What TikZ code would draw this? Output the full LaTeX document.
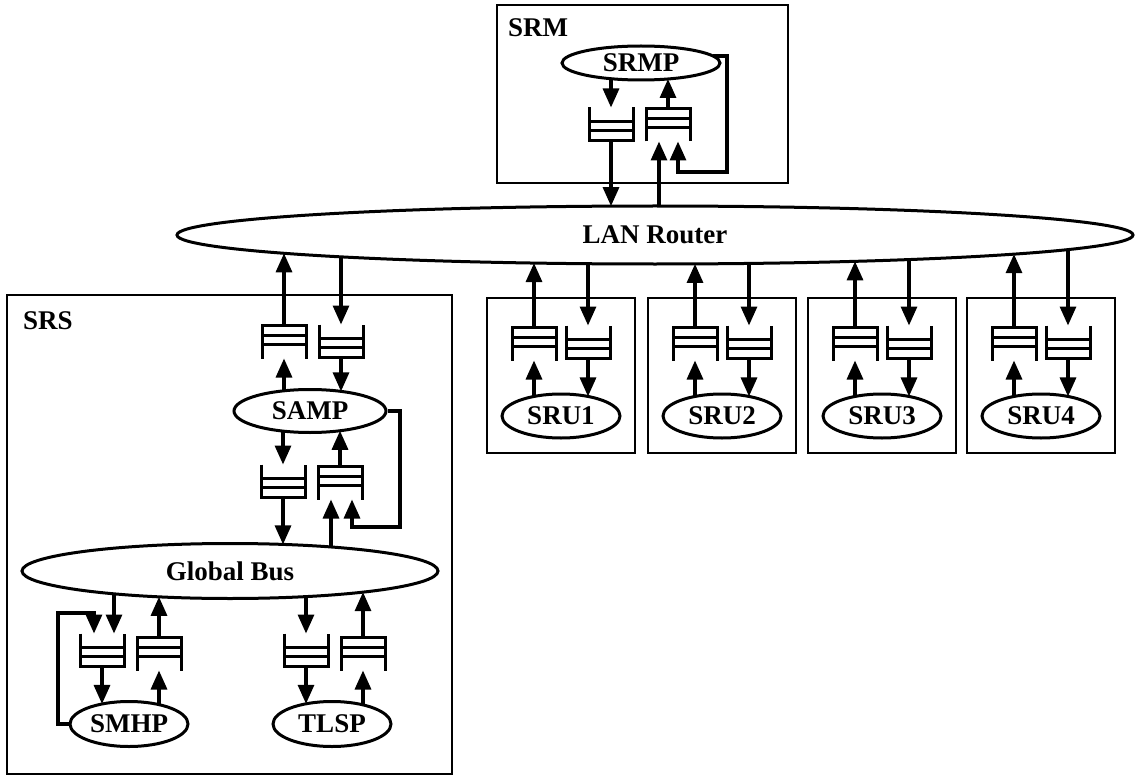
\documentclass[tikz,border=0pt]{standalone}
\usepackage{fontspec}
\setmainfont{Liberation Serif}
\usetikzlibrary{shapes.geometric,arrows.meta,calc}
\tikzset{
  lbl/.style={font=\fontsize{27}{31}\selectfont\bfseries, inner sep=0pt},
  ell/.style={draw, ellipse, line width=3pt, lbl},
  box/.style={draw, line width=1.9pt, inner sep=0pt},
  arr/.style={line width=3.2pt, -{Triangle[length=19pt,width=16pt]}},
  qbox/.style={minimum width=44pt, minimum height=33pt, inner sep=0pt, outer sep=0pt},
  qline/.style={line width=3pt},
}
% open-top queue (flow downward)
\newcommand\qtop[3]{%
  \node[qbox] (#1) at (#2,#3) {};
  \draw[qline] (#1.north west) -- (#1.south west) -- (#1.south east) -- (#1.north east);
  \draw[qline] ($(#1.north west)!.42!(#1.south west)$) -- ($(#1.north east)!.42!(#1.south east)$);
  \draw[qline] ($(#1.north west)!.70!(#1.south west)$) -- ($(#1.north east)!.70!(#1.south east)$);}
% open-bottom queue (flow upward)
\newcommand\qbot[3]{%
  \node[qbox] (#1) at (#2,#3) {};
  \draw[qline] (#1.south west) -- (#1.north west) -- (#1.north east) -- (#1.south east);
  \draw[qline] ($(#1.south west)!.42!(#1.north west)$) -- ($(#1.south east)!.42!(#1.north east)$);
  \draw[qline] ($(#1.south west)!.70!(#1.north west)$) -- ($(#1.south east)!.70!(#1.north east)$);}
% point on an ellipse border: name, x, cx, cy, a, b, sign (-1 top, +1 bottom)
\newcommand\ept[7]{%
  \pgfmathsetmacro\tmpy{(#4)+(#7)*(#6)*sqrt(1-(((#2)-(#3))/(#5))^2)}%
  \coordinate (#1) at ({#2},\tmpy);}
\begin{document}
\begin{tikzpicture}[x=1pt,y=-1pt]
\useasboundingbox (0,0) rectangle (1135,778);

% LAN router
\node[ell, minimum width=956pt, minimum height=58pt] (lan) at (655,235) {LAN Router};

% SRM
\node[box, minimum width=291pt, minimum height=178pt] (srm) at (642.5,94) {};
\node[lbl] (srmlbl) at (538,28) {SRM};
\node[ell, minimum width=158pt, minimum height=34pt] (srmp) at (641,63) {SRMP};
\qtop{srmq1}{611}{124}
\qbot{srmq2}{668}{125}
\ept{a1}{611}{641}{63}{79}{17}{1}
\draw[arr] (a1) -- (srmq1.north);
\ept{a2}{668}{641}{63}{79}{17}{1}
\draw[arr] (srmq2.north) -- (a2);
\ept{a3}{611}{655}{235}{478}{29}{-1}
\draw[arr] (srmq1.south) -- (a3);
\ept{a4}{659}{655}{235}{478}{29}{-1}
\draw[arr] (a4) -- ([xshift=-9pt]srmq2.south);
\coordinate (srmfb) at (712.5,56);
\draw[arr] (srmfb) -- (727,56) -- (727,172) -- (678,172) -- ([xshift=10pt]srmq2.south);

% SRS
\node[box, minimum width=445pt, minimum height=479pt] (srs) at (229.5,534.5) {};
\node[lbl] (srslbl) at (48,321) {SRS};
\qbot{sq1}{284}{342}
\qtop{sq2}{341}{341}
\ept{b1}{284}{655}{235}{478}{29}{1}
\draw[arr] (sq1.north) -- (b1);
\ept{b2}{341}{655}{235}{478}{29}{1}
\draw[arr] (b2) -- (sq2.north);
\node[ell, minimum width=152pt, minimum height=43pt] (samp) at (310,411) {SAMP};
\ept{b3}{284}{310}{411}{76}{21.5}{-1}
\draw[arr] (b3) -- (sq1.south);
\ept{b4}{341}{310}{411}{76}{21.5}{-1}
\draw[arr] (sq2.south) -- (b4);
\qtop{sq3}{283}{481}
\qbot{sq4}{340}{483}
\ept{b5}{283}{310}{411}{76}{21.5}{1}
\draw[arr] (b5) -- (sq3.north);
\ept{b6}{340}{310}{411}{76}{21.5}{1}
\draw[arr] (sq4.north) -- (b6);
\node[ell, minimum width=416pt, minimum height=55pt] (bus) at (230,571) {Global Bus};
\ept{b7}{283}{230}{571}{208}{27.5}{-1}
\draw[arr] (sq3.south) -- (b7);
\ept{b8}{331}{230}{571}{208}{27.5}{-1}
\draw[arr] (b8) -- ([xshift=-9pt]sq4.south);
\draw[arr] (samp.east) -- (400,411) -- (400,527) -- (352,527) -- ([xshift=12pt]sq4.south);

% SMHP
\qtop{mq1}{102}{650}
\qbot{mq2}{159}{654}
\node[ell, minimum width=118pt, minimum height=45pt] (smhp) at (129,724) {SMHP};
\ept{c1}{114}{230}{571}{208}{27.5}{1}
\draw[arr] (c1) -- ([xshift=12pt]mq1.north);
\draw[arr] (smhp.west) -- (58,724) -- (58,613) -- (94,613) -- ([xshift=-8pt]mq1.north);
\ept{c2}{159}{230}{571}{208}{27.5}{1}
\draw[arr] (mq2.north) -- (c2);
\ept{c3}{102}{129}{724}{59}{22.5}{-1}
\draw[arr] (mq1.south) -- (c3);
\ept{c4}{159}{129}{724}{59}{22.5}{-1}
\draw[arr] (c4) -- (mq2.south);

% TLSP
\qtop{tq1}{306}{650}
\qbot{tq2}{363}{654}
\node[ell, minimum width=118pt, minimum height=45pt] (tlsp) at (332,724) {TLSP};
\ept{d1}{306}{230}{571}{208}{27.5}{1}
\draw[arr] (d1) -- (tq1.north);
\ept{d2}{363}{230}{571}{208}{27.5}{1}
\draw[arr] (tq2.north) -- (d2);
\ept{d3}{306}{332}{724}{59}{22.5}{-1}
\draw[arr] (tq1.south) -- (d3);
\ept{d4}{363}{332}{724}{59}{22.5}{-1}
\draw[arr] (d4) -- (tq2.south);

% SRU units
\foreach \i/\xo in {1/0,2/161,3/321,4/480}{
  \node[box, minimum width=148pt, minimum height=155pt] (srubox\i) at (561+\xo,375.5) {};
  \qbot{ruq\i a}{534+\xo}{344}
  \qtop{ruq\i b}{588+\xo}{342}
  \node[ell, minimum width=118pt, minimum height=44pt] (sru\i) at (561+\xo,416) {SRU\i};
  \ept{e1}{534+\xo}{655}{235}{478}{29}{1}
  \draw[arr] (ruq\i a.north) -- (e1);
  \ept{e2}{588+\xo}{655}{235}{478}{29}{1}
  \draw[arr] (e2) -- (ruq\i b.north);
  \ept{e3}{534+\xo}{561+\xo}{416}{59}{22}{-1}
  \draw[arr] (e3) -- (ruq\i a.south);
  \ept{e4}{588+\xo}{561+\xo}{416}{59}{22}{-1}
  \draw[arr] (ruq\i b.south) -- (e4);
}
\end{tikzpicture}
\end{document}
